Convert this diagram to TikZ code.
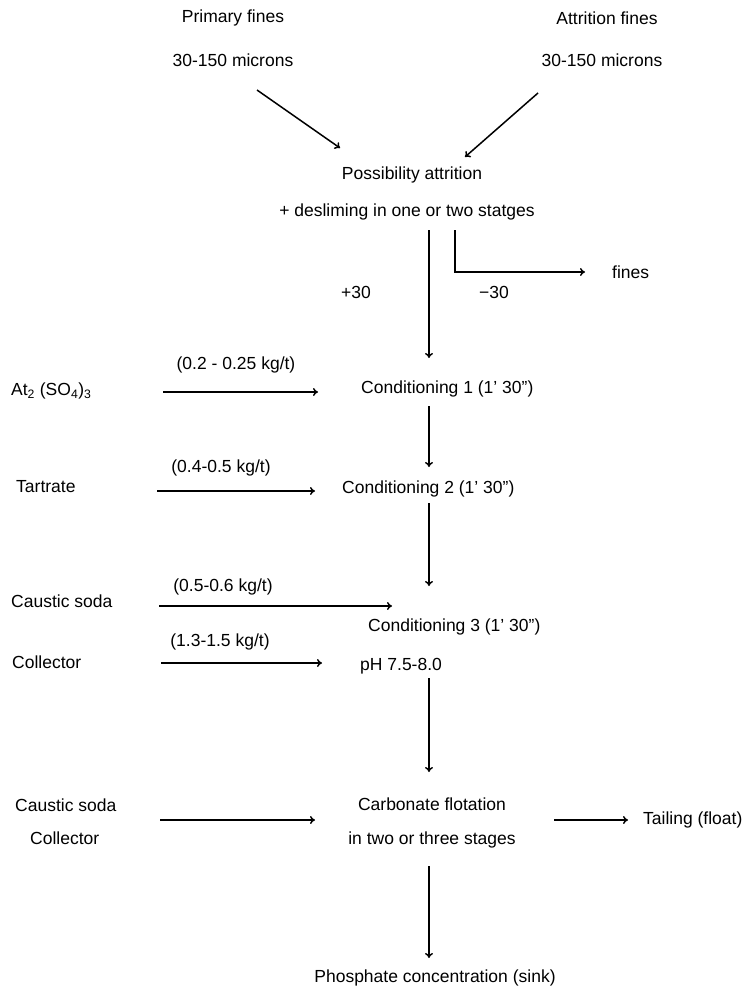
\documentclass[tikz,border=0pt]{standalone}
\usepackage{fontspec}
\setmainfont{Liberation Sans}
\usetikzlibrary{arrows.meta,positioning}
\tikzset{
  lbl/.style={inner sep=0pt,font=\fontsize{17.5}{21}\selectfont},
  flow/.style={-{To[length=5pt,width=8pt]},line width=1.5pt},
}
\begin{document}
\begin{tikzpicture}[x=1pt,y=-1pt]
  \useasboundingbox (0,0) rectangle (747,990);
  % feeds
  \node[lbl] (prim) at (233,18) {Primary fines};
  \node[lbl] (primsz) at (233,60) {30-150 microns};
  \node[lbl] (attr) at (607,18) {Attrition fines};
  \node[lbl] (attrsz) at (602,60) {30-150 microns};
  \node[lbl] (poss) at (412,175) {Possibility attrition};
  \node[lbl] (desl) at (407,212) {+ desliming in one or two statges};
  \node[lbl] (plus) at (356,292) {+30};
  \node[lbl] (minus) at (494,292) {−30};
  \node[lbl,anchor=west] (fines) at (612,272) {fines};
  % conditioning
  \node[lbl,anchor=west] (alum) at (11,391) {At\textsubscript{2} (SO\textsubscript{4})\textsubscript{3}};
  \node[lbl] (dose1) at (236,365) {(0.2 - 0.25 kg/t)};
  \node[lbl,anchor=west] (cond1) at (361,389) {Conditioning 1 (1’ 30”)};
  \node[lbl,anchor=west] (tart) at (16,487) {Tartrate};
  \node[lbl] (dose2) at (221,468) {(0.4-0.5 kg/t)};
  \node[lbl,anchor=west] (cond2) at (342,489) {Conditioning 2 (1’ 30”)};
  \node[lbl,anchor=west] (soda1) at (11,601) {Caustic soda};
  \node[lbl] (dose3) at (223,587) {(0.5-0.6 kg/t)};
  \node[lbl,anchor=west] (cond3) at (368,627) {Conditioning 3 (1’ 30”)};
  \node[lbl,anchor=west] (coll1) at (12,662) {Collector};
  \node[lbl] (dose4) at (220,642) {(1.3-1.5 kg/t)};
  \node[lbl,anchor=west] (ph) at (360,666) {pH 7.5-8.0};
  % flotation
  \node[lbl,anchor=west] (soda2) at (15,805) {Caustic soda};
  \node[lbl,anchor=west] (coll2) at (30,838) {Collector};
  \node[lbl] (carb) at (432,804) {Carbonate flotation};
  \node[lbl] (stag) at (432,840) {in two or three stages};
  \node[lbl,anchor=west] (tail) at (643,820) {Tailing (float)};
  \node[lbl] (phos) at (435,978) {Phosphate concentration (sink)};
  % arrow ends
  \coordinate (p1) at (257,90);   \coordinate (p2) at (340,148);
  \coordinate (q1) at (538,93);   \coordinate (q2) at (465,157);
  \coordinate (d1) at (429,230);  \coordinate (d2) at (429,358);
  \coordinate (f1) at (455,230);  \coordinate (f2) at (585,272);
  \coordinate (r1) at (163,392);  \coordinate (r2) at (318,392);
  \coordinate (s1) at (157,491);  \coordinate (s2) at (315,491);
  \coordinate (t1) at (159,606);  \coordinate (t2) at (392,606);
  \coordinate (u1) at (161,663);  \coordinate (u2) at (322,663);
  \coordinate (w1) at (160,820);  \coordinate (w2) at (315,820);
  \coordinate (x1) at (554,820);  \coordinate (x2) at (628,820);
  \coordinate (c1) at (429,406);  \coordinate (c2) at (429,467);
  \coordinate (c3) at (429,503);  \coordinate (c4) at (429,586);
  \coordinate (c5) at (429,678);  \coordinate (c6) at (429,772);
  \coordinate (c7) at (429,866);  \coordinate (c8) at (429,958);
  \draw[flow] (p1) -- (p2);
  \draw[flow] (q1) -- (q2);
  \draw[flow] (d1) -- (d2);
  \draw[flow] (f1) |- (f2);
  \draw[flow] (r1) -- (r2);
  \draw[flow] (s1) -- (s2);
  \draw[flow] (t1) -- (t2);
  \draw[flow] (u1) -- (u2);
  \draw[flow] (w1) -- (w2);
  \draw[flow] (x1) -- (x2);
  \draw[flow] (c1) -- (c2);
  \draw[flow] (c3) -- (c4);
  \draw[flow] (c5) -- (c6);
  \draw[flow] (c7) -- (c8);
\end{tikzpicture}
\end{document}
